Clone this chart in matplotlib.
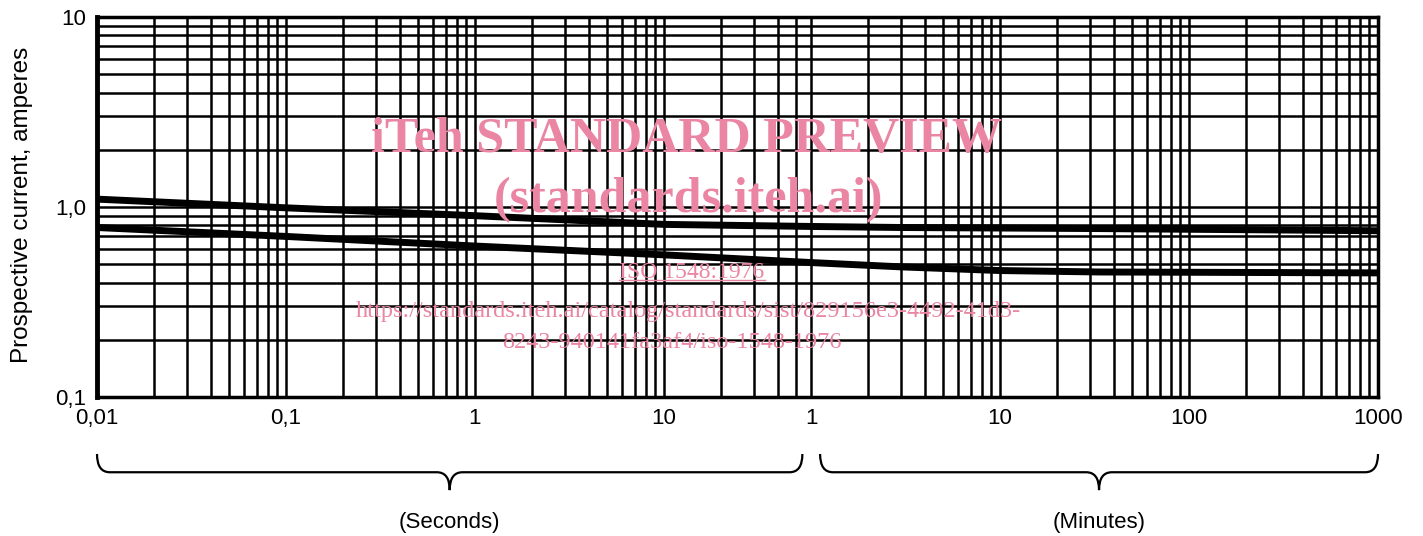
import numpy as np
import matplotlib.pyplot as plt
from matplotlib.path import Path
from matplotlib.patches import PathPatch
from matplotlib.lines import Line2D
from matplotlib.ticker import FixedLocator, NullFormatter

# время в секундах (1 мин = 60 с), ток в амперах
time_s = [0.01, 0.1, 1, 10, 60, 180, 600, 2000, 60000]
upper_a = [1.10, 0.99, 0.90, 0.81, 0.79, 0.78, 0.775, 0.77, 0.75]
lower_a = [0.78, 0.70, 0.623, 0.56, 0.51, 0.484, 0.463, 0.455, 0.45]

x_tick_pos = [0.01, 0.1, 1, 10, 60, 600, 6000, 60000]
x_tick_labels = ["0,01", "0,1", "1", "10", "1", "10", "100", "1000"]
y_tick_pos = [0.1, 1, 10]
y_tick_labels = ["0,1", "1,0", "10"]

seconds_span = (0.01, 54)
minutes_span = (67, 60000)

PINK = "#ea86a3"
FONT = "Liberation Sans"


def brace(ax, x0, x1, label):
    # фигурная скобка под осью, x0/x1 в секундах
    lo, hi = np.log10(ax.get_xlim())
    f0 = (np.log10(x0) - lo) / (hi - lo)
    f1 = (np.log10(x1) - lo) / (hi - lo)
    fc = (f0 + f1) / 2
    y_top, y_mid, y_tip = -0.150, -0.198, -0.245
    r = 0.010
    verts = [(f0, y_top), (f0, y_mid), (f0 + r, y_mid),
             (fc - r, y_mid), (fc, y_mid), (fc, y_tip),
             (fc, y_mid), (fc + r, y_mid),
             (f1 - r, y_mid), (f1, y_mid), (f1, y_top)]
    codes = [Path.MOVETO, Path.CURVE3, Path.CURVE3,
             Path.LINETO, Path.CURVE3, Path.CURVE3,
             Path.CURVE3, Path.CURVE3,
             Path.LINETO, Path.CURVE3, Path.CURVE3]
    patch = PathPatch(Path(verts, codes), transform=ax.transAxes,
                      fill=False, lw=1.6, color="black", clip_on=False)
    ax.add_patch(patch)
    ax.text(fc, -0.33, label, transform=ax.transAxes, ha="center",
            va="center", fontsize=16, family=FONT)


def main():
    fig = plt.figure(figsize=(14.23, 5.36), dpi=100)
    ax = fig.add_axes([97 / 1423, 1 - 397 / 536, 1281 / 1423, 380 / 536])
    ax.set_xscale("log")
    ax.set_yscale("log")
    ax.set_xlim(0.01, 60000)
    ax.set_ylim(0.1, 10)

    # сетка: секунды до 60 с, дальше минуты
    xgrid = [k * 10.0 ** d for d in range(-2, 1) for k in range(1, 10)]
    xgrid += [10, 20, 30, 40, 50]
    xgrid += [k * 60 * 10.0 ** d for d in range(0, 3) for k in range(1, 10)]
    ygrid = [k * 10.0 ** d for d in range(-1, 1) for k in range(1, 10)]
    ax.xaxis.set_major_locator(FixedLocator(x_tick_pos))
    ax.xaxis.set_minor_locator(FixedLocator(xgrid))
    ax.yaxis.set_major_locator(FixedLocator(y_tick_pos))
    ax.yaxis.set_minor_locator(FixedLocator(ygrid))
    ax.xaxis.set_minor_formatter(NullFormatter())
    ax.yaxis.set_minor_formatter(NullFormatter())
    ax.set_xticklabels(x_tick_labels, fontsize=16, family=FONT)
    ax.set_yticklabels(y_tick_labels, fontsize=16, family=FONT)
    ax.tick_params(which="both", length=0, pad=8)
    ax.grid(True, which="both", color="black", lw=1.8)

    for s in ax.spines.values():
        s.set_linewidth(2.5)
    ax.spines["left"].set_linewidth(3.5)

    ax.plot(time_s, upper_a, color="black", lw=5, solid_capstyle="butt")
    ax.plot(time_s, lower_a, color="black", lw=5, solid_capstyle="butt")

    ax.set_ylabel("Prospective current, amperes", fontsize=17.5, family=FONT)
    ax.yaxis.set_label_coords(-0.050, 0.505)

    brace(ax, *seconds_span, "(Seconds)")
    brace(ax, *minutes_span, "(Minutes)")

    # водяной знак
    serif = "Liberation Serif"
    fig.text(686 / 1423, 1 - 140 / 536, "iTeh STANDARD PREVIEW", color=PINK,
             fontsize=36, fontweight="bold", family=serif, ha="center", va="center")
    fig.text(688 / 1423, 1 - 200 / 536, "(standards.iteh.ai)", color=PINK,
             fontsize=36, fontweight="bold", family=serif, ha="center", va="center")
    iso = fig.text(692 / 1423, 1 - 272 / 536, "ISO 1548:1976", color=PINK,
                   fontsize=17, family=serif, ha="center", va="center")
    fig.text(688 / 1423, 1 - 312 / 536,
             "https://standards.iteh.ai/catalog/standards/sist/829156e3-4492-41d3-",
             color=PINK, fontsize=17.5, family=serif, ha="center", va="center")
    fig.text(672 / 1423, 1 - 343 / 536, "8243-940141fa3af4/iso-1548-1976",
             color=PINK, fontsize=17.5, family=serif, ha="center", va="center")

    fig.canvas.draw()
    bb = iso.get_window_extent().transformed(fig.transFigure.inverted())
    fig.add_artist(Line2D([bb.x0, bb.x1], [bb.y0 + 0.004, bb.y0 + 0.004],
                          color=PINK, lw=1, transform=fig.transFigure))

    fig.savefig("out.png", dpi=100)


if __name__ == "__main__":
    main()
